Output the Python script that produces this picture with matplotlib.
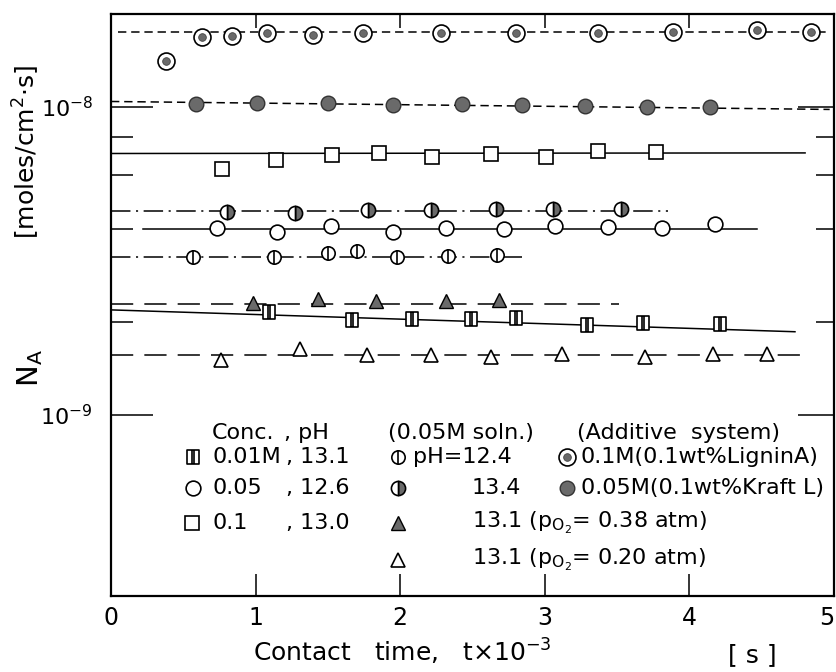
import matplotlib
matplotlib.use('Agg')
import matplotlib.pyplot as plt
from matplotlib.path import Path
from matplotlib.markers import MarkerStyle
from matplotlib.ticker import FixedLocator, FixedFormatter, NullFormatter

plt.rcParams['font.family'] = ['DejaVu Sans']
plt.rcParams['mathtext.default'] = 'regular'
plt.rcParams['lines.scale_dashes'] = False

# ---------------- data (contact time x 1e-3 s, N_A moles/cm2 s) ----------------
lig_t = [0.38, 0.63, 0.84, 1.08, 1.40, 1.74, 2.28, 2.80, 3.37, 3.89, 4.47, 4.84]
lig_N = [1.41e-8, 1.68e-8, 1.70e-8, 1.73e-8, 1.71e-8, 1.74e-8, 1.74e-8, 1.73e-8,
         1.73e-8, 1.75e-8, 1.77e-8, 1.75e-8]
lig_line_t = [0.05, 4.97]
lig_line_N = [1.75e-8, 1.75e-8]

kraft_t = [0.59, 1.01, 1.50, 1.95, 2.43, 2.84, 3.28, 3.71, 4.14]
kraft_N = [1.023e-8, 1.030e-8, 1.030e-8, 1.015e-8, 1.023e-8, 1.015e-8, 1.007e-8,
           1.0e-8, 1.0e-8]
kraft_line_t = [0.0, 4.97]
kraft_line_N = [1.04e-8, 0.98e-8]

c10_t = [0.77, 1.14, 1.53, 1.85, 2.22, 2.63, 3.01, 3.37, 3.77]
c10_N = [6.29e-9, 6.73e-9, 6.99e-9, 7.09e-9, 6.88e-9, 7.04e-9, 6.88e-9, 7.20e-9, 7.14e-9]
c10_line_t = [0.0, 4.80]
c10_line_N = [7.05e-9, 7.08e-9]

ph134_t = [0.80, 1.27, 1.78, 2.21, 2.66, 3.06, 3.53]
ph134_N = [4.56e-9, 4.53e-9, 4.63e-9, 4.63e-9, 4.67e-9, 4.67e-9, 4.67e-9]
ph134_line_t = [0.0, 3.85]
ph134_line_N = [4.59e-9, 4.59e-9]

c05_t = [0.73, 1.15, 1.52, 1.95, 2.32, 2.72, 3.07, 3.44, 3.81, 4.18]
c05_N = [4.05e-9, 3.93e-9, 4.11e-9, 3.93e-9, 4.05e-9, 4.02e-9, 4.11e-9, 4.08e-9,
         4.05e-9, 4.17e-9]
c05_line_t = [0.22, 4.47]
c05_line_N = [4.02e-9, 4.02e-9]

ph124_t = [0.57, 1.13, 1.50, 1.70, 1.98, 2.33, 2.67]
ph124_N = [3.26e-9, 3.26e-9, 3.36e-9, 3.41e-9, 3.26e-9, 3.28e-9, 3.31e-9]
ph124_line_t = [0.0, 2.84]
ph124_line_N = [3.26e-9, 3.26e-9]

po38_t = [0.98, 1.43, 1.83, 2.32, 2.68]
po38_N = [2.30e-9, 2.38e-9, 2.34e-9, 2.34e-9, 2.36e-9]
po38_line_t = [0.0, 3.51]
po38_line_N = [2.29e-9, 2.29e-9]

c01_t = [1.09, 1.67, 2.08, 2.49, 2.80, 3.29, 3.68, 4.21]
c01_N = [2.16e-9, 2.03e-9, 2.05e-9, 2.05e-9, 2.06e-9, 1.95e-9, 1.99e-9, 1.97e-9]
c01_line_t = [0.0, 4.73]
c01_line_N = [2.19e-9, 1.86e-9]

po20_t = [0.76, 1.31, 1.77, 2.21, 2.63, 3.12, 3.69, 4.16, 4.54]
po20_N = [1.51e-9, 1.63e-9, 1.56e-9, 1.56e-9, 1.54e-9, 1.57e-9, 1.54e-9, 1.58e-9, 1.57e-9]
po20_line_t = [0.0, 4.78]
po20_line_N = [1.56e-9, 1.56e-9]

x_ticks = [0, 1, 2, 3, 4, 5]
x_ticklabels = ['0', '1', '2', '3', '4', '5']
y_major = [1e-9, 1e-8]
y_major_labels = ['10$^{-9}$', '10$^{-8}$']
y_minor = [2e-9, 4e-9, 6e-9, 8e-9]

# ---------------- figure ----------------
W, H = 836, 672
fig = plt.figure(figsize=(W / 100, H / 100), dpi=100)
L, R, T, B = 111, 834, 14, 596
ax = fig.add_axes([L / W, 1 - B / H, (R - L) / W, (B - T) / H])
ax.set_yscale('log')
ax.set_xlim(0, 5)
ax.set_ylim(2.58e-10, 2.0e-8)
for s in ax.spines.values():
    s.set_linewidth(1.6)

GRAY = '#6a6a6a'
LW = 1.1
SHORT = (6, 3.5)
DASHDOT = (14, 4, 1.5, 4)
LONG = (16, 8)

# square with two vertical bars marker
sqbar = Path([(-0.9, -1), (0.9, -1), (0.9, 1), (-0.9, 1), (-0.9, -1),
              (-0.15, -1), (-0.15, 1), (0.15, -1), (0.15, 1)],
             [Path.MOVETO, Path.LINETO, Path.LINETO, Path.LINETO, Path.CLOSEPOLY,
              Path.MOVETO, Path.LINETO, Path.MOVETO, Path.LINETO])
half = MarkerStyle('o', fillstyle='right')

# lines
ax.plot(lig_line_t, lig_line_N, color='k', lw=LW, dashes=SHORT, zorder=2)
ax.plot(kraft_line_t, kraft_line_N, color='k', lw=LW, dashes=SHORT, zorder=2)
ax.plot(c10_line_t, c10_line_N, color='k', lw=LW, zorder=2)
ax.plot(ph134_line_t, ph134_line_N, color='k', lw=LW, dashes=DASHDOT, zorder=2)
ax.plot(c05_line_t, c05_line_N, color='k', lw=LW, zorder=2)
ax.plot(ph124_line_t, ph124_line_N, color='k', lw=LW, dashes=DASHDOT, zorder=2)
ax.plot(po38_line_t, po38_line_N, color='k', lw=LW, dashes=LONG, zorder=2)
ax.plot(c01_line_t, c01_line_N, color='k', lw=LW, zorder=2)
ax.plot(po20_line_t, po20_line_N, color='k', lw=LW, dashes=LONG, zorder=2)

# marker styles
def m_lig(x, y, **kw):
    ax.plot(x, y, 'o', ms=12.2, mfc='white', mec='k', mew=1.2, zorder=3, **kw)
    ax.plot(x, y, 'o', ms=5.5, mfc=GRAY, mec='#444444', mew=0.6, zorder=4, **kw)

def m_kraft(x, y, **kw):
    ax.plot(x, y, 'o', ms=10.5, mfc=GRAY, mec='#333333', mew=1.0, zorder=3, **kw)

def m_c10(x, y, **kw):
    ax.plot(x, y, 's', ms=9.4, mfc='white', mec='k', mew=1.2, zorder=3, **kw)

def m_half(x, y, **kw):
    ax.plot(x, y, marker=half, ls='none', ms=10.2, mfc=GRAY, mfcalt='white',
            mec='k', mew=1.2, zorder=3, **kw)

def m_c05(x, y, **kw):
    ax.plot(x, y, 'o', ms=10.6, mfc='white', mec='k', mew=1.2, zorder=3, **kw)

def m_bar(x, y, **kw):
    ax.plot(x, y, 'o', ms=9.6, mfc='white', mec='k', mew=1.2, zorder=3, **kw)
    ax.plot(x, y, '|', ms=9.6, color='k', mew=1.2, zorder=4, **kw)

def m_tri_f(x, y, **kw):
    ax.plot(x, y, '^', ms=10.5, mfc=GRAY, mec='k', mew=1.0, zorder=3, **kw)

def m_sqbar(x, y, **kw):
    ax.plot(x, y, marker=sqbar, ls='none', ms=9.4, mfc='white', mec='k', mew=1.2,
            zorder=3, **kw)

def m_tri_o(x, y, **kw):
    ax.plot(x, y, '^', ms=10.5, mfc='white', mec='k', mew=1.2, zorder=3, **kw)

m_lig(lig_t, lig_N)
m_kraft(kraft_t, kraft_N)
m_c10(c10_t, c10_N)
m_half(ph134_t, ph134_N)
m_c05(c05_t, c05_N)
m_bar(ph124_t, ph124_N)
m_tri_f(po38_t, po38_N)
m_sqbar(c01_t, c01_N)
m_tri_o(po20_t, po20_N)

# ---------------- ticks ----------------
ax.set_xticks(x_ticks)
ax.set_xticklabels(x_ticklabels)
ax.get_xticklabels()[-1].set_horizontalalignment('right')
ax.tick_params(axis='x', direction='in', length=16, width=1.1, labelsize=17, pad=7)
ax.yaxis.set_major_locator(FixedLocator(y_major))
ax.yaxis.set_major_formatter(FixedFormatter(y_major_labels))
ax.yaxis.set_minor_locator(FixedLocator(y_minor))
ax.yaxis.set_minor_formatter(NullFormatter())
ax.tick_params(axis='y', which='major', direction='in', length=30, width=1.1,
               labelsize=16, pad=13)
ax.tick_params(axis='y', which='minor', direction='in', length=16, width=1.1)

secx = ax.secondary_xaxis('top', functions=(lambda v: v, lambda v: v))
secx.set_xticks([1, 2, 3, 4])
secx.tick_params(direction='in', length=10, width=1.1, labeltop=False)
secx.spines['top'].set_visible(False)

secy = ax.secondary_yaxis('right', functions=(lambda v: v, lambda v: v))
secy.yaxis.set_major_locator(FixedLocator(y_major))
secy.yaxis.set_minor_locator(FixedLocator(y_minor))
secy.yaxis.set_major_formatter(NullFormatter())
secy.yaxis.set_minor_formatter(NullFormatter())
secy.tick_params(which='major', direction='in', length=26, width=1.1)
secy.tick_params(which='minor', direction='in', length=13, width=1.1)
secy.spines['right'].set_visible(False)

# ---------------- axis labels ----------------
def fp(px, py):
    return px / W, 1 - py / H

fig.text(*fp(26, 152), '[moles/cm$^2$·s]', rotation=90, fontsize=18,
         ha='center', va='center')
fig.text(*fp(30, 368), 'N$_A$', rotation=90, fontsize=21, ha='center', va='center')
fig.text(*fp(253, 652), 'Contact   time,   t×10$^{-3}$', fontsize=18,
         ha='left', va='center')
fig.text(*fp(728, 655), '[ s ]', fontsize=18, ha='left', va='center')

# ---------------- legend block ----------------
def ap(px, py):
    return [(px - L) / (R - L)], [(B - py) / (B - T)]

LS = 16
rows = [433, 457, 488, 523, 560]
fig.text(*fp(212, rows[0]), 'Conc.', fontsize=LS, va='center')
fig.text(*fp(284, rows[0]), ', pH', fontsize=LS, va='center')
fig.text(*fp(212, rows[1]), '0.01M', fontsize=LS, va='center')
fig.text(*fp(286, rows[1]), ', 13.1', fontsize=LS, va='center')
fig.text(*fp(212, rows[2]), '0.05', fontsize=LS, va='center')
fig.text(*fp(286, rows[2]), ', 12.6', fontsize=LS, va='center')
fig.text(*fp(212, rows[3]), '0.1', fontsize=LS, va='center')
fig.text(*fp(286, rows[3]), ', 13.0', fontsize=LS, va='center')

fig.text(*fp(388, rows[0]), '(0.05M soln.)', fontsize=LS, va='center')
fig.text(*fp(413, rows[1]), 'pH=12.4', fontsize=LS, va='center')
fig.text(*fp(472, rows[2]), '13.4', fontsize=LS, va='center')
fig.text(*fp(472, rows[3]), '13.1 (p$_{O_2}$= 0.38 atm)', fontsize=LS, va='center')
fig.text(*fp(472, rows[4]), '13.1 (p$_{O_2}$= 0.20 atm)', fontsize=LS, va='center')

fig.text(*fp(577, rows[0]), '(Additive  system)', fontsize=LS, va='center')
fig.text(*fp(581, rows[1]), '0.1M(0.1wt%LigninA)', fontsize=LS, va='center')
fig.text(*fp(581, rows[2]), '0.05M(0.1wt%Kraft L)', fontsize=LS, va='center')

kw = dict(transform=ax.transAxes, clip_on=False)
m_sqbar(*ap(193, rows[1]), **kw)
m_c05(*ap(193, rows[2]), **kw)
m_c10(*ap(192, rows[3]), **kw)
m_bar(*ap(398, rows[1]), **kw)
m_half(*ap(398, rows[2]), **kw)
m_tri_f(*ap(398, rows[3]), **kw)
m_tri_o(*ap(398, rows[4]), **kw)
m_lig(*ap(567, rows[1]), **kw)
m_kraft(*ap(567, rows[2]), **kw)

fig.savefig('out.png', dpi=100)
